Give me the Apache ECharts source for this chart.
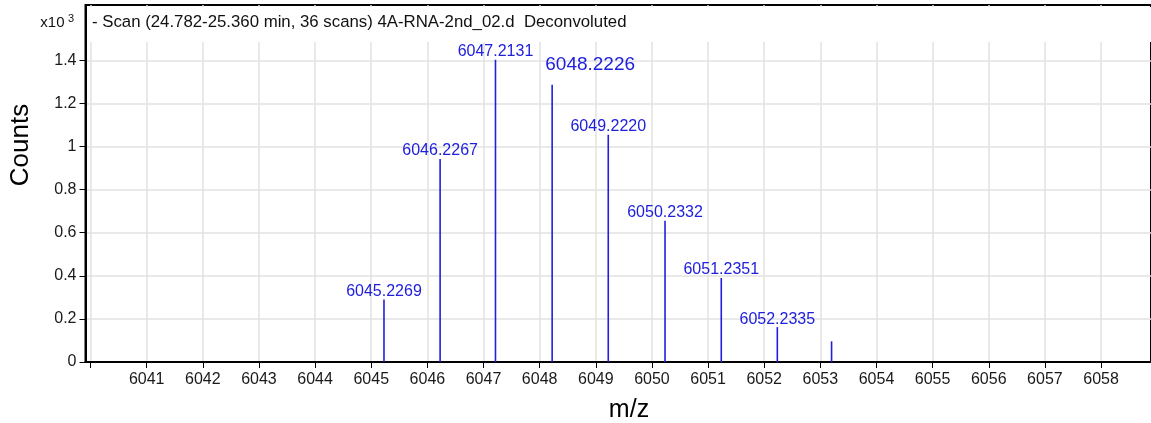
<!DOCTYPE html>
<html>
<head>
<meta charset="utf-8">
<script src="https://cdn.jsdelivr.net/npm/echarts@6/dist/echarts.min.js"></script>
<style>
  html, body { margin: 0; padding: 0; background: #fff; }
  #chart { width: 1151px; height: 423px; }
</style>
</head>
<body>
<div id="chart"></div>
<script>
// peak positions (m/z) and heights (counts x10^3)
const mzValues = [6045.2269, 6046.2267, 6047.2131, 6048.2226, 6049.2220, 6050.2332, 6051.2351, 6052.2335, 6053.20];
const counts = [0.29, 0.942, 1.403, 1.287, 1.055, 0.656, 0.39, 0.162, 0.096];
const peakLabels = ['6045.2269', '6046.2267', '6047.2131', '6048.2226', '6049.2220', '6050.2332', '6051.2351', '6052.2335', ''];
const xTicks = [6040, 6041, 6042, 6043, 6044, 6045, 6046, 6047, 6048, 6049, 6050, 6051, 6052, 6053, 6054, 6055, 6056, 6057, 6058];
const xTickLabels = [6041, 6042, 6043, 6044, 6045, 6046, 6047, 6048, 6049, 6050, 6051, 6052, 6053, 6054, 6055, 6056, 6057, 6058];
const yTicks = [0, 0.2, 0.4, 0.6, 0.8, 1, 1.2, 1.4];
const titleText = '- Scan (24.782-25.360 min, 36 scans) 4A-RNA-2nd_02.d  Deconvoluted';
const highlightPeak = '6048.2226';

const sans = '"Liberation Sans", Arial, sans-serif';
const peakColor = '#2020dc';

const myChart = echarts.init(document.getElementById('chart'), null, { renderer: 'canvas' });

const option = {
    animation: false,
    grid: {
        left: 85.5,
        right: -2,
        top: 5,
        bottom: 61,
        show: true,
        borderColor: '#000',
        borderWidth: 2,
        backgroundColor: '#fff'
    },
    xAxis: {
        type: 'value',
        min: 6039.91,
        max: 6058.89,
        axisLine: { show: true, onZero: false, lineStyle: { color: '#000', width: 2 } },
        axisTick: { show: true, length: 6, customValues: xTicks, lineStyle: { color: '#000', width: 1 } },
        axisLabel: {
            customValues: xTickLabels,
            margin: 10,
            fontFamily: sans,
            fontSize: 16,
            color: '#1a1a1a',
            formatter: v => String(v)
        },
        splitLine: { show: true, lineStyle: { color: '#e2e2e2', width: 1.5 } }
    },
    yAxis: {
        type: 'value',
        min: 0,
        max: 1.657,
        axisLine: { show: true, lineStyle: { color: '#000', width: 2 } },
        axisTick: { show: true, length: 6, customValues: yTicks, lineStyle: { color: '#000', width: 1 } },
        axisLabel: {
            customValues: yTicks,
            margin: 9,
            fontFamily: sans,
            fontSize: 16,
            color: '#1a1a1a',
            formatter: v => String(+(+v).toFixed(1))
        },
        splitLine: { show: true, lineStyle: { color: '#e2e2e2', width: 1.5 } }
    },
    graphic: [
        // white band behind the scan title
        { type: 'rect', z: 1, silent: true, shape: { x: 87, y: 7, width: 1064, height: 35 }, style: { fill: '#fff' } },
        { type: 'text', z: 10, x: 92, y: 22, style: { text: titleText, font: '16.8px ' + sans, fill: '#111', textVerticalAlign: 'middle' } },
        {
            type: 'text', z: 10, x: 74, y: 23,
            style: {
                text: '{a|x10} {b|3}',
                textAlign: 'right',
                textVerticalAlign: 'middle',
                rich: {
                    a: { fontFamily: sans, fontSize: 15, fill: '#111', color: '#111' },
                    b: { fontFamily: sans, fontSize: 11, fill: '#111', color: '#111', padding: [0, 0, 8, 0] }
                }
            }
        },
        { type: 'text', z: 10, x: 21, y: 145, rotation: Math.PI / 2, style: { text: 'Counts', font: '26px ' + sans, fill: '#000', textAlign: 'center', textVerticalAlign: 'middle' } },
        { type: 'text', z: 10, x: 629, y: 410, style: { text: 'm/z', font: '25px ' + sans, fill: '#000', textAlign: 'center', textVerticalAlign: 'middle' } }
    ],
    series: [{
        type: 'bar',
        barWidth: 1.6,
        itemStyle: { color: peakColor },
        label: {
            show: true,
            position: 'top',
            distance: 0,
            fontFamily: sans,
            fontSize: 16,
            color: peakColor,
            formatter: p => peakLabels[p.dataIndex]
        },
        data: mzValues.map((x, i) => {
            const item = { value: [x, counts[i]] };
            if (peakLabels[i] === highlightPeak) {
                item.label = { fontFamily: sans, fontSize: 19, offset: [38, -10] };
            }
            return item;
        })
    }]
};

myChart.setOption(option);
window.addEventListener('resize', () => myChart.resize());
</script>
</body>
</html>
